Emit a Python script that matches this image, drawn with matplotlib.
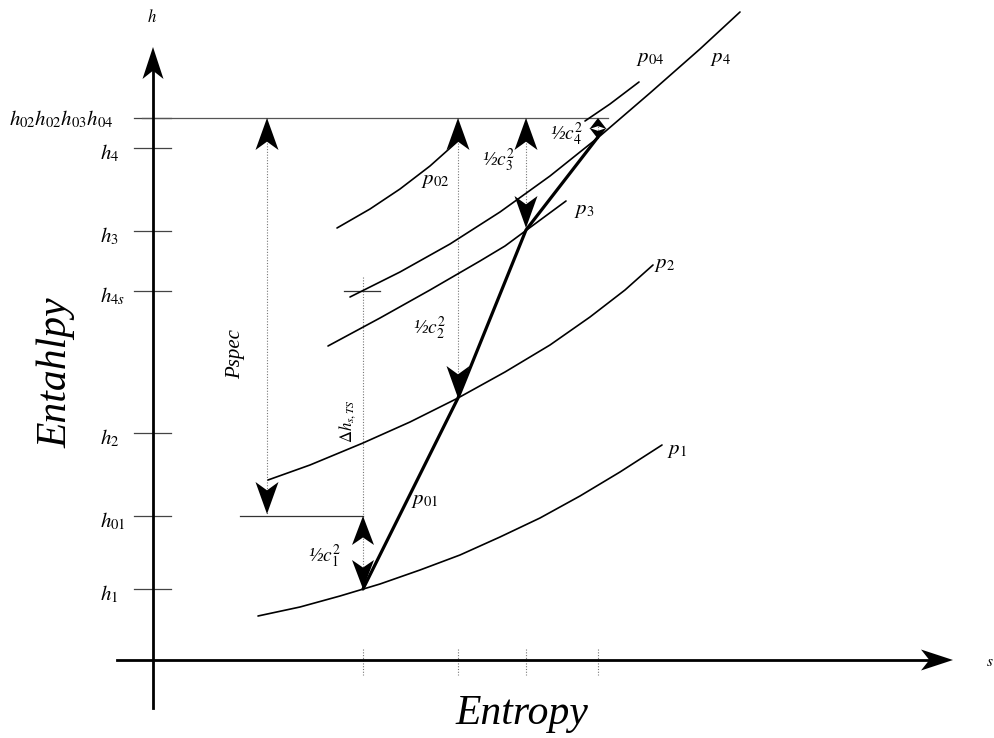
import numpy as np
import matplotlib
matplotlib.use("Agg")
from matplotlib import pyplot as plt

# diagram drawn in picture units: s to the right, h downward (axis inverted)
# isobars
p1_s = [258, 300, 340, 380, 420, 460, 500, 540, 580, 620, 662]
p1_h = [616, 607, 596, 584, 570, 555, 537, 518, 496, 472, 445]
p2_s = [268, 310, 363, 410, 458, 505, 550, 590, 625, 653]
p2_h = [480, 465, 443, 422, 398, 372, 345, 317, 290, 265]
p3_s = [328, 380, 430, 480, 505, 528, 566]
p3_h = [346, 318, 290, 261, 246, 229, 201]
p4_s = [350, 400, 450, 500, 550, 600, 650, 700, 740]
p4_h = [297, 272, 244, 212, 176, 136, 93, 49, 12]
p02_s = [337, 370, 400, 430, 458]
p02_h = [228, 209, 189, 166, 141]
p04_s = [585, 610, 639]
p04_h = [121, 104, 82]

# process states 1..4
state_s = [363, 458, 526, 598]
state_h = [589, 398, 230, 137]

# enthalpy levels on the h axis
level_h = [118, 148, 231, 291, 433, 516, 589]
level_lbl = [r"$h_{\mathit{02}}h_{\mathit{02}}h_{\mathit{03}}h_{\mathit{04}}$",
             r"$h_{\mathit{4}}$", r"$h_{\mathit{3}}$", r"$h_{\mathit{4s}}$",
             r"$h_{\mathit{2}}$", r"$h_{\mathit{01}}$", r"$h_{\mathit{1}}$"]
H0, H4, H3, H4S, H2, H01, H1 = level_h
s_spec = 267

plt.rcParams["mathtext.fontset"] = "stix"
plt.rcParams["font.family"] = ["Liberation Serif", "DejaVu Serif"]

fig = plt.figure(figsize=(9.94, 7.38), dpi=100)
ax = fig.add_axes([0, 0, 1, 1])
ax.set_xlim(0, 994)
ax.set_ylim(738, 0)
ax.axis("off")


def arrow_head(x, y, dx, dy, length, width):
    # notched filled head, tip at (x, y), pointing along (dx, dy)
    px, py = -dy, dx
    bx, by = x - dx * length, y - dy * length
    nx, ny = x - dx * length * 0.74, y - dy * length * 0.74
    ax.fill([x, bx + px * width / 2, nx, bx - px * width / 2],
            [y, by + py * width / 2, ny, by - py * width / 2],
            color="black", lw=0, zorder=6)


def dotted(x, y0, y1):
    ax.plot([x, x], [y0, y1], color="#777777", lw=0.8, ls=(0, (1, 1.5)), zorder=1)


def double_arrow(x, top, bottom, length=32, width=23):
    dotted(x, top, bottom)
    arrow_head(x, top, 0, -1, length, width)
    arrow_head(x, bottom, 0, 1, length, width)


# axes
ax.plot([153, 153], [708, 60], color="black", lw=2.0, zorder=3)
arrow_head(153, 47, 0, -1, 32, 21)
ax.plot([117, 940], [660, 660], color="black", lw=2.0, zorder=3)
arrow_head(953, 660, 1, 0, 32, 21)

# ticks and level labels
for i, (h, lbl) in enumerate(zip(level_h, level_lbl)):
    ax.plot([134, 171], [h, h], color="#444444", lw=0.9, zorder=2)
    if i == 0:
        ax.text(113, h + 1, lbl, ha="right", va="center", fontsize=15)
    else:
        ax.text(100, h + 5, lbl, ha="left", va="center", fontsize=15)

ax.plot([142, 608], [H0, H0], color="#555555", lw=0.9, zorder=2)
ax.plot([240, state_s[0]], [H01, H01], color="#333333", lw=0.9, zorder=2)
ax.plot([344, 380], [H4S, H4S], color="#333333", lw=0.9, zorder=2)

# isobars
for xs, ys in [(p1_s, p1_h), (p2_s, p2_h), (p3_s, p3_h), (p4_s, p4_h),
               (p02_s, p02_h), (p04_s, p04_h)]:
    ax.plot(xs, ys, color="black", lw=1.2, solid_capstyle="round",
            solid_joinstyle="round", zorder=3)

# process line
ax.plot(state_s, state_h, color="black", lw=2.3, solid_capstyle="round", zorder=4)

# dotted guides and arrows
dotted(state_s[0], 277, H01)
double_arrow(s_spec, H0, H01 - 2)
double_arrow(state_s[0], H01, state_h[0], 29, 22)
double_arrow(state_s[1], H0, state_h[1])
double_arrow(state_s[2], H0, state_h[2] - 2)
double_arrow(state_s[3], H0, state_h[3] + 2, 11, 17)
for s in state_s:
    dotted(s, 649, 675)

# labels
it = dict(ha="center", va="center", style="italic")
ax.text(650, 58, r"$p_{\mathit{04}}$", fontsize=15, **it)
ax.text(720, 58, r"$p_{\mathit{4}}$", fontsize=15, **it)
ax.text(435, 180, r"$p_{\mathit{02}}$", fontsize=15, **it)
ax.text(584, 211, r"$p_{\mathit{3}}$", fontsize=15, **it)
ax.text(665, 265, r"$p_{\mathit{2}}$", fontsize=15, **it)
ax.text(677, 451, r"$p_{\mathit{1}}$", fontsize=15, **it)
ax.text(425, 500, r"$p_{\mathit{01}}$", fontsize=15, **it)
ax.text(567, 134, r"½$c_{\mathit{4}}^{\mathit{2}}$", fontsize=14, **it)
ax.text(499, 160, r"½$c_{\mathit{3}}^{\mathit{2}}$", fontsize=14, **it)
ax.text(430, 328, r"½$c_{\mathit{2}}^{\mathit{2}}$", fontsize=14, **it)
ax.text(325, 556, r"½$c_{\mathit{1}}^{\mathit{2}}$", fontsize=14, **it)
ax.text(236, 354, "Pspec", fontsize=15, rotation=90, **it)
ax.text(348, 421, r"$\Delta h_{s,TS}$", fontsize=12, rotation=90, **it)
ax.text(152, 18, r"$h$", fontsize=12, **it)
ax.text(990, 662, r"$s$", fontsize=11, **it)
ax.text(522, 714, "Entropy", fontsize=30, **it)
ax.text(56, 373, "Entahlpy", fontsize=30, rotation=90, **it)

fig.savefig("out.png", dpi=100)
